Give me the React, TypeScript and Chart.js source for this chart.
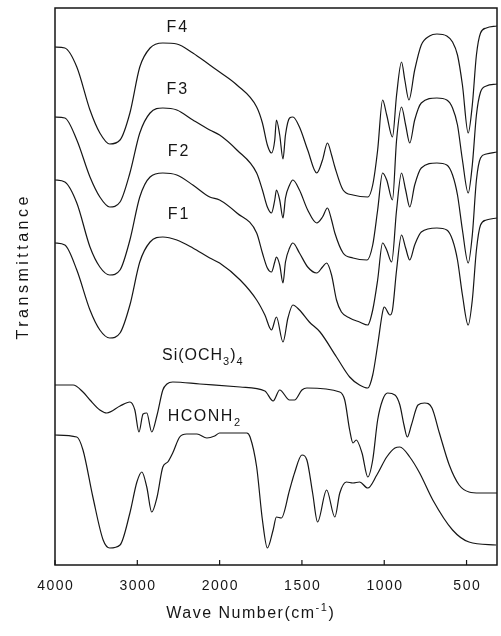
import { useEffect, useRef } from "react";
import { Chart, registerables } from "chart.js";

Chart.register(...registerables);

// Each point: [wave number (cm^-1), transmittance (arbitrary units, traces offset vertically)]
type Pt = [number, number];

const F4: Pt[] = [
  [4000, 103.6], [3880, 103.4], [3735, 99.6], [3575, 91.0], [3455, 86.4], [3335, 84.2],
  [3210, 85.0], [3090, 90.4], [2970, 99.6], [2845, 103.4], [2690, 104.4], [2520, 104.2],
  [2325, 102.4], [2120, 100.0], [2000, 98.6], [1895, 96.0], [1775, 91.6], [1740, 88.4],
  [1710, 84.0], [1685, 82.4], [1665, 85.0], [1655, 89.0], [1635, 86.0], [1615, 81.2],
  [1600, 86.0], [1575, 89.4], [1555, 89.6], [1515, 87.6], [1465, 83.0], [1410, 78.4],
  [1375, 81.0], [1345, 84.4], [1320, 82.0], [1300, 79.6], [1250, 75.0], [1190, 74.0],
  [1100, 73.6], [1070, 76.0], [1040, 83.0], [1010, 93.0], [985, 90.0], [950, 85.6],
  [925, 94.0], [895, 100.6], [875, 97.0], [850, 93.0], [815, 99.0], [775, 104.0],
  [725, 105.8], [680, 106.2], [620, 105.8], [585, 104.6], [555, 102.0], [525, 96.0],
  [490, 86.4], [465, 92.0], [440, 102.0], [415, 106.4], [380, 107.4], [315, 107.8],
];

const F3: Pt[] = [
  [4000, 89.6], [3880, 89.4], [3735, 85.0], [3575, 77.6], [3455, 73.6], [3335, 71.6],
  [3210, 72.6], [3090, 78.4], [2970, 86.4], [2845, 90.4], [2690, 91.4], [2520, 91.0],
  [2325, 89.0], [2120, 87.0], [2000, 86.0], [1895, 83.0], [1775, 78.4], [1740, 75.0],
  [1710, 71.6], [1685, 70.4], [1665, 73.0], [1655, 75.0], [1635, 73.0], [1615, 69.4],
  [1600, 73.4], [1575, 76.0], [1555, 77.0], [1515, 75.0], [1465, 71.0], [1410, 68.4],
  [1375, 69.6], [1345, 71.4], [1320, 69.0], [1300, 66.4], [1250, 62.4], [1190, 61.4],
  [1105, 61.0], [1070, 64.0], [1040, 71.0], [1010, 78.4], [985, 77.0], [950, 73.0],
  [925, 85.0], [895, 91.6], [870, 88.0], [845, 84.4], [815, 89.0], [775, 92.4],
  [680, 93.4], [620, 93.0], [585, 91.4], [555, 88.0], [525, 81.0], [490, 74.4],
  [465, 80.0], [440, 90.0], [415, 94.6], [380, 95.8], [315, 96.2],
];

const F2: Pt[] = [
  [4000, 77.0], [3880, 76.6], [3735, 72.4], [3575, 63.6], [3455, 59.6], [3335, 58.0],
  [3210, 59.0], [3090, 65.0], [2970, 73.6], [2845, 77.6], [2690, 78.4], [2520, 78.0],
  [2325, 76.0], [2120, 73.6], [2000, 73.0], [1895, 70.4], [1775, 66.4], [1740, 62.4],
  [1710, 59.4], [1685, 58.6], [1665, 60.6], [1655, 61.6], [1635, 60.0], [1615, 56.4],
  [1600, 60.6], [1575, 63.4], [1555, 64.4], [1515, 62.4], [1465, 59.6], [1410, 58.4],
  [1375, 59.6], [1350, 60.4], [1320, 58.0], [1290, 53.0], [1260, 50.6], [1210, 49.4],
  [1150, 48.6], [1100, 48.0], [1070, 51.0], [1040, 57.0], [1010, 64.4], [985, 63.0],
  [955, 60.6], [925, 71.0], [895, 78.4], [870, 75.0], [845, 71.6], [815, 76.0],
  [775, 79.4], [680, 80.4], [620, 80.0], [585, 78.0], [555, 74.0], [525, 67.0],
  [490, 60.4], [465, 66.0], [440, 77.0], [415, 81.4], [380, 82.2], [315, 82.6],
];

const F1: Pt[] = [
  [4000, 64.4], [3880, 64.0], [3735, 59.0], [3575, 51.0], [3455, 47.0], [3335, 45.4],
  [3210, 46.4], [3090, 52.0], [2970, 60.6], [2845, 64.6], [2690, 65.6], [2520, 65.0],
  [2325, 63.4], [2120, 61.4], [2000, 60.4], [1875, 57.0], [1775, 53.0], [1725, 50.0],
  [1685, 47.0], [1655, 49.6], [1615, 44.6], [1585, 49.4], [1555, 52.0], [1515, 51.0],
  [1455, 48.6], [1390, 46.6], [1290, 41.6], [1210, 37.6], [1150, 36.0], [1100, 35.4],
  [1070, 38.0], [1040, 44.0], [1010, 50.6], [1000, 51.6], [965, 50.0], [950, 51.0],
  [925, 59.0], [895, 66.0], [870, 63.4], [845, 61.0], [815, 64.0], [775, 66.6],
  [680, 67.4], [620, 67.0], [585, 65.0], [555, 61.0], [525, 54.0], [490, 48.0],
  [465, 53.0], [440, 63.0], [415, 68.0], [380, 69.0], [315, 69.4],
];

const SI_OCH3_4: Pt[] = [
  [4000, 36.0], [3780, 36.0], [3660, 34.6], [3575, 33.0], [3455, 31.0], [3370, 30.4],
  [3210, 31.8], [3090, 32.6], [3030, 31.0], [2980, 26.6], [2930, 30.2], [2885, 30.4],
  [2825, 26.6], [2760, 30.0], [2690, 35.0], [2640, 36.2], [2570, 36.6], [2240, 36.2],
  [1875, 35.6], [1725, 34.8], [1675, 32.8], [1635, 35.0], [1575, 33.0], [1545, 33.0],
  [1500, 35.0], [1470, 35.4], [1270, 34.6], [1240, 33.0], [1210, 27.0], [1190, 24.4],
  [1170, 25.0], [1135, 22.4], [1100, 17.6], [1070, 21.0], [1040, 29.0], [1010, 33.0],
  [980, 34.4], [935, 34.0], [905, 32.0], [880, 28.0], [860, 25.6], [835, 28.0],
  [795, 32.0], [755, 32.4], [710, 31.4], [665, 26.4], [605, 20.0], [545, 16.0],
  [485, 14.6], [420, 14.4], [315, 14.4],
];

const HCONH2: Pt[] = [
  [4000, 26.0], [3735, 25.6], [3660, 23.0], [3540, 13.6], [3415, 5.0], [3335, 3.4],
  [3210, 4.0], [3090, 10.4], [3005, 16.6], [2945, 18.6], [2885, 15.6], [2825, 10.6],
  [2760, 13.6], [2690, 19.6], [2630, 20.6], [2570, 22.4], [2485, 25.6], [2400, 26.2],
  [2275, 26.2], [2155, 25.4], [2060, 25.8], [2000, 26.4], [1835, 26.4], [1815, 25.6],
  [1775, 19.6], [1740, 9.0], [1710, 3.4], [1675, 7.0], [1655, 9.6], [1625, 9.4],
  [1575, 15.0], [1545, 18.4], [1500, 22.0], [1470, 21.0], [1435, 14.4], [1405, 8.6],
  [1350, 15.0], [1300, 9.6], [1270, 14.4], [1230, 16.6], [1190, 16.4], [1150, 16.6],
  [1100, 15.4], [1045, 18.0], [985, 21.6], [935, 23.4], [905, 23.6], [845, 21.6],
  [785, 18.4], [705, 13.0], [585, 7.0], [485, 4.6], [320, 4.0],
];

const TICK_WAVENUMBERS = [4000, 3000, 2000, 1500, 1000, 500];
const WN_MIN = 315;

// The abscissa is compressed above 2000 cm-1 (1000 cm-1 per division)
// and expanded below it (500 cm-1 per division).
function toAxis(wn: number): number {
  return wn >= 2000 ? (4000 - wn) / 1000 : 2 + (2000 - wn) / 500;
}

const FONT = '"Liberation Sans", Arial, Helvetica, sans-serif';
const INK = "#161616";

type Run = { text: string; shift?: "sub" | "sup" };
type Note = { runs: Run[]; wn: number; t: number; align: "left" | "center"; spacing: number };

const NOTES: Note[] = [
  { runs: [{ text: "F4" }], wn: 2520, t: 107.8, align: "center", spacing: 2 },
  { runs: [{ text: "F3" }], wn: 2520, t: 95.4, align: "center", spacing: 2 },
  { runs: [{ text: "F2" }], wn: 2505, t: 83.0, align: "center", spacing: 2 },
  { runs: [{ text: "F1" }], wn: 2505, t: 70.4, align: "center", spacing: 2 },
  {
    runs: [{ text: "Si(OCH" }, { text: "3", shift: "sub" }, { text: ")" }, { text: "4", shift: "sub" }],
    wn: 2700, t: 42.2, align: "left", spacing: 1,
  },
  {
    runs: [{ text: "HCONH" }, { text: "2", shift: "sub" }],
    wn: 2630, t: 30.0, align: "left", spacing: 1.5,
  },
];

function drawRuns(
  ctx: CanvasRenderingContext2D,
  runs: Run[],
  x: number,
  y: number,
  size: number,
  spacing: number,
  align: "left" | "center"
) {
  const small = Math.round(size * 0.7);
  (ctx as any).letterSpacing = `${spacing}px`;
  ctx.textAlign = "left";
  ctx.textBaseline = "alphabetic";
  const widths = runs.map((r) => {
    ctx.font = `${r.shift ? small : size}px ${FONT}`;
    return ctx.measureText(r.text).width;
  });
  const total = widths.reduce((a, b) => a + b, 0) - spacing;
  let cx = align === "center" ? x - total / 2 : x;
  runs.forEach((r, i) => {
    ctx.font = `${r.shift ? small : size}px ${FONT}`;
    const dy = r.shift === "sub" ? size * 0.32 : r.shift === "sup" ? -size * 0.42 : 0;
    ctx.fillText(r.text, cx, y + dy);
    cx += widths[i];
  });
}

const frameAndText = {
  id: "frameAndText",
  afterDraw(chart: Chart) {
    const { ctx, chartArea } = chart;
    const xs = chart.scales.x;
    const ys = chart.scales.y;
    ctx.save();
    ctx.strokeStyle = INK;
    ctx.fillStyle = INK;

    // plot frame
    ctx.lineWidth = 1.5;
    ctx.strokeRect(chartArea.left, chartArea.top, chartArea.right - chartArea.left, chartArea.bottom - chartArea.top);

    // inward tick marks and tick labels on the wave-number axis
    ctx.lineWidth = 1.2;
    TICK_WAVENUMBERS.forEach((wn) => {
      const px = xs.getPixelForValue(toAxis(wn));
      ctx.beginPath();
      ctx.moveTo(px, chartArea.bottom);
      ctx.lineTo(px, chartArea.bottom - 5);
      ctx.stroke();
      drawRuns(ctx, [{ text: String(wn) }], px, chartArea.bottom + 25, 14, 1.5, "center");
    });

    // axis titles
    drawRuns(
      ctx,
      [{ text: "Wave Number(cm" }, { text: "-1", shift: "sup" }, { text: ")" }],
      (chartArea.left + chartArea.right) / 2 - 26,
      chartArea.bottom + 53,
      16,
      1.5,
      "center"
    );
    ctx.save();
    ctx.translate(28, 268);
    ctx.rotate(-Math.PI / 2);
    drawRuns(ctx, [{ text: "Transmittance" }], 0, 0, 16, 3.5, "center");
    ctx.restore();

    // trace labels
    NOTES.forEach((n) => {
      const px = xs.getPixelForValue(toAxis(n.wn));
      const py = ys.getPixelForValue(n.t) + 6;
      drawRuns(ctx, n.runs, px, py, 16, n.spacing, n.align);
    });
    ctx.restore();
  },
};

const SERIES = [F4, F3, F2, F1, SI_OCH3_4, HCONH2];

export default function App() {
  const ref = useRef<HTMLCanvasElement>(null);

  useEffect(() => {
    if (!ref.current) return;
    const chart = new Chart(ref.current, {
      type: "line",
      data: {
        datasets: SERIES.map((pts) => ({
          data: pts.map(([wn, t]) => ({ x: toAxis(wn), y: t })),
          borderColor: INK,
          borderWidth: 1.2,
          pointRadius: 0,
          fill: false,
          cubicInterpolationMode: "monotone" as const,
        })),
      },
      options: {
        responsive: false,
        animation: false,
        events: [],
        layout: { padding: { left: 55, right: 4, top: 8, bottom: 71 } },
        plugins: { legend: { display: false }, tooltip: { enabled: false } },
        scales: {
          x: { type: "linear", min: 0, max: toAxis(WN_MIN), display: false },
          y: { type: "linear", min: 0, max: 111.4, display: false },
        },
      },
      plugins: [frameAndText],
    });
    return () => chart.destroy();
  }, []);

  return (
    <div style={{ position: "absolute", left: 0, top: 0, width: 501, height: 636, background: "#fff" }}>
      <canvas ref={ref} width={501} height={636} style={{ display: "block" }} />
    </div>
  );
}
